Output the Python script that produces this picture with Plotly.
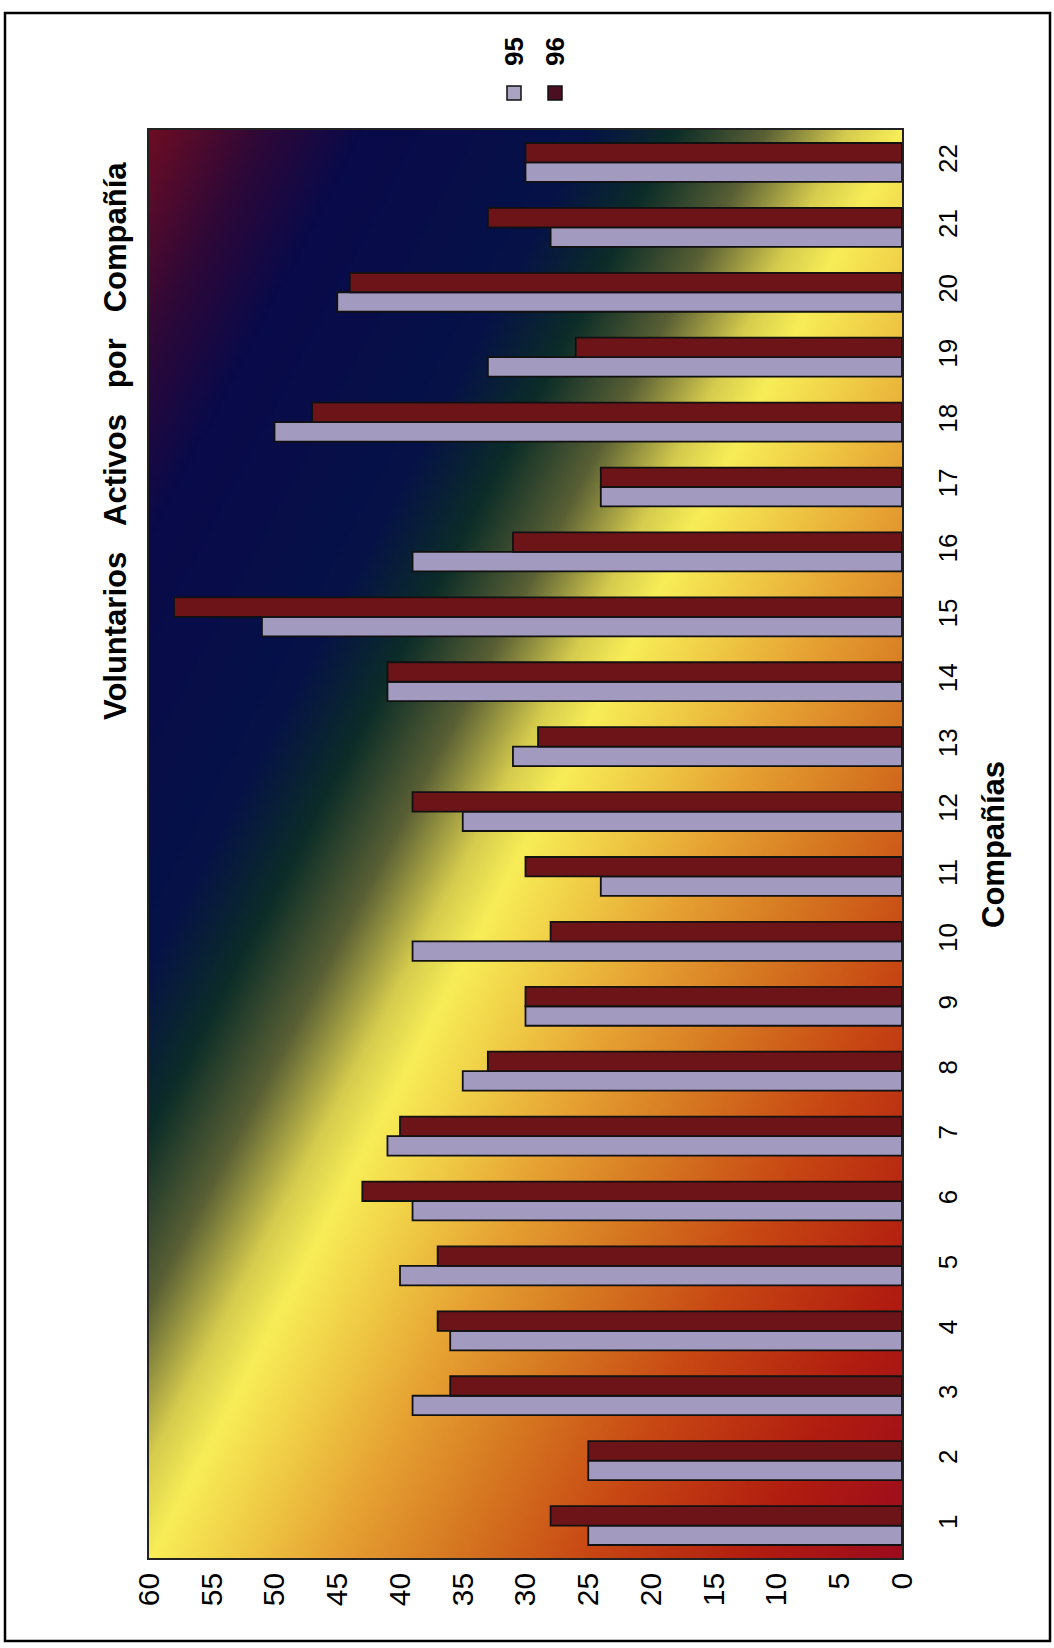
import base64
import struct
import zlib

import numpy as np
import plotly.graph_objects as go

# ---------------- data ----------------
companias = list(range(1, 23))
tick_labels = [str(c) for c in companias]
valores_95 = [25, 25, 39, 36, 40, 39, 41, 35, 30, 39, 24, 35, 31, 41, 51, 39, 24, 50, 33, 45, 28, 30]
valores_96 = [28, 25, 36, 37, 37, 43, 40, 33, 30, 28, 30, 39, 29, 41, 58, 31, 24, 47, 26, 44, 33, 30]
value_ticks = list(range(0, 61, 5))

# ---------------- layout geometry (pixels) ----------------
W, H = 1054, 1648
L, R, T, B = 149, 152, 130, 90
PW, PH = W - L - R, H - T - B


def px(x):
    return (x - L) / PW


def py(y):
    return 1 - (y - T) / PH


FONT = "Liberation Sans, Arial, Helvetica, sans-serif"
C95 = "#a39abf"
C96 = "#6c1418"

# ---------------- diagonal gradient background (PNG) ----------------
stops = [
    (0.00, (107, 13, 36)),
    (0.15, (46, 8, 56)),
    (0.28, (10, 10, 74)),
    (0.58, (6, 18, 72)),
    (0.70, (12, 45, 40)),
    (0.82, (90, 96, 53)),
    (0.93, (214, 204, 78)),
    (1.00, (248, 238, 88)),
    (1.11, (240, 205, 70)),
    (1.25, (230, 160, 50)),
    (1.40, (214, 120, 34)),
    (1.58, (200, 72, 20)),
    (1.80, (178, 30, 16)),
    (2.00, (156, 12, 30)),
]
gw, gh = 160, 300
uu = np.linspace(0, 1, gw)[None, :]
vv = np.linspace(0, 1, gh)[:, None]
ss = uu + vv
sp = np.array([s for s, _ in stops])
img = np.zeros((gh, gw, 3), dtype=np.uint8)
for k in range(3):
    ch = np.array([c[k] for _, c in stops], dtype=float)
    img[:, :, k] = np.clip(np.interp(ss, sp, ch), 0, 255).astype(np.uint8)


def to_png(a):
    h, w, _ = a.shape
    raw = b"".join(b"\x00" + a[j].tobytes() for j in range(h))

    def chunk(t, d):
        return struct.pack(">I", len(d)) + t + d + struct.pack(">I", zlib.crc32(t + d) & 0xFFFFFFFF)

    return (b"\x89PNG\r\n\x1a\n" + chunk(b"IHDR", struct.pack(">IIBBBBB", w, h, 8, 2, 0, 0, 0))
            + chunk(b"IDAT", zlib.compress(raw, 9)) + chunk(b"IEND", b""))


bg_uri = "data:image/png;base64," + base64.b64encode(to_png(img)).decode()

# ---------------- figure ----------------
fig = go.Figure()
fig.add_trace(go.Bar(
    orientation="h", y=companias, x=valores_95, name="95",
    marker=dict(color=C95, line=dict(color="#111111", width=1.8)),
    hoverinfo="skip",
))
fig.add_trace(go.Bar(
    orientation="h", y=companias, x=valores_96, name="96",
    marker=dict(color=C96, line=dict(color="#111111", width=1.8)),
    hoverinfo="skip",
))

fig.update_layout(
    width=W, height=H, autosize=False,
    margin=dict(l=L, r=R, t=T, b=B, pad=0),
    paper_bgcolor="white",
    plot_bgcolor="rgba(0,0,0,0)",
    barmode="group", bargap=0.40, bargroupgap=0.0,
    showlegend=False,
    font=dict(family=FONT, color="black"),
    images=[dict(source=bg_uri, xref="paper", yref="paper", x=0, y=1, sizex=1, sizey=1,
                 xanchor="left", yanchor="top", sizing="stretch", layer="below")],
)

fig.update_xaxes(
    range=[60, 0], tickvals=value_ticks, ticktext=[str(v) for v in value_ticks],
    tickangle=-90, tickfont=dict(size=30, family=FONT, color="black"),
    ticks="", showgrid=False, zeroline=False,
    showline=True, mirror=True, linecolor="#222222", linewidth=1.5,
    ticklabelstandoff=1,
)
fig.update_yaxes(
    range=[0.5, 22.5], tickvals=companias, ticktext=tick_labels, side="right",
    tickangle=-90, tickfont=dict(size=26, family=FONT, color="black"),
    ticks="", showgrid=False, zeroline=False,
    showline=True, mirror=True, linecolor="#222222", linewidth=1.5,
    ticklabelstandoff=22,
)

annotations = [
    dict(text="<b>Voluntarios\u00a0\u00a0\u00a0Activos\u00a0\u00a0\u00a0por\u00a0\u00a0\u00a0Compañía</b>",
         x=px(115), y=py(441), xref="paper", yref="paper", showarrow=False,
         textangle=-90, font=dict(size=31, family=FONT, color="black"),
         xanchor="center", yanchor="middle"),
    dict(text="<b>Compañías</b>", x=px(993), y=py(844), xref="paper", yref="paper",
         showarrow=False, textangle=-90, font=dict(size=31, family=FONT, color="black"),
         xanchor="center", yanchor="middle"),
    dict(text="<b>95</b>", x=px(514), y=py(52), xref="paper", yref="paper",
         showarrow=False, textangle=-90, font=dict(size=26, family=FONT, color="black"),
         xanchor="center", yanchor="middle"),
    dict(text="<b>96</b>", x=px(555), y=py(52), xref="paper", yref="paper",
         showarrow=False, textangle=-90, font=dict(size=26, family=FONT, color="black"),
         xanchor="center", yanchor="middle"),
]
fig.update_layout(annotations=annotations)

shapes = [
    dict(type="rect", xref="paper", yref="paper", x0=px(507), x1=px(521), y0=py(100), y1=py(86),
         fillcolor="#aaa4c2", line=dict(color="#111111", width=1.5)),
    dict(type="rect", xref="paper", yref="paper", x0=px(548), x1=px(562), y0=py(100), y1=py(86),
         fillcolor="#4a1022", line=dict(color="#111111", width=1.5)),
    dict(type="rect", xref="paper", yref="paper", x0=px(5), x1=px(1050), y0=py(1641), y1=py(13),
         fillcolor="rgba(0,0,0,0)", line=dict(color="black", width=2.5)),
]
fig.update_layout(shapes=shapes)

fig.write_html(
    "out.html",
    config={"displayModeBar": False},
    post_script="document.body.style.margin='0';document.body.style.overflow='hidden';",
)
